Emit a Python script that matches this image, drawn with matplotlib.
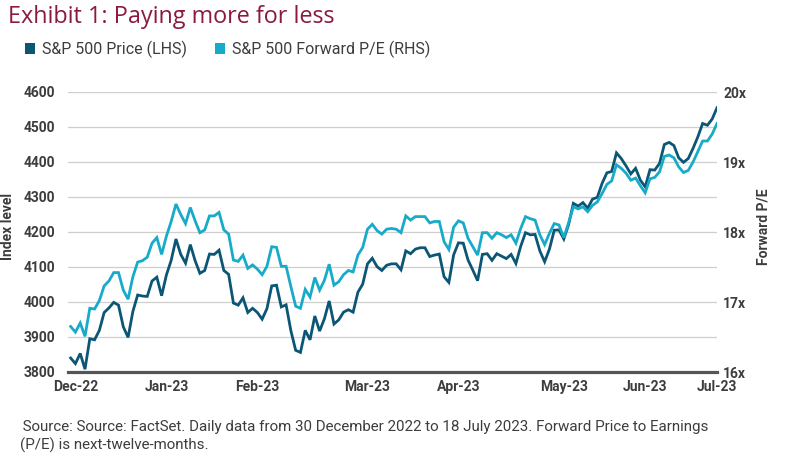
import numpy as np
import matplotlib
matplotlib.use("Agg")
import matplotlib.pyplot as plt
from matplotlib.patches import Rectangle

# ── data (trading days 30 Dec 2022 .. 18 Jul 2023) ──
price = [
    3840, 3824, 3853, 3808, 3895, 3892, 3919, 3970, 3983, 3999,
    3991, 3929, 3899, 3973, 4020, 4017, 4016, 4060, 4071, 4018,
    4077, 4119, 4180, 4136, 4111, 4164, 4118, 4082, 4090, 4137,
    4136, 4148, 4090, 4079, 3997, 3991, 4012, 3970, 3982, 3970,
    3951, 3981, 4046, 4048, 3986, 3992, 3918, 3862, 3856, 3919,
    3892, 3960, 3917, 3952, 4003, 3937, 3949, 3971, 3978, 3971,
    4028, 4051, 4109, 4125, 4101, 4090, 4105, 4109, 4109, 4092,
    4146, 4138, 4151, 4155, 4155, 4130, 4134, 4137, 4072, 4056,
    4135, 4169, 4168, 4120, 4091, 4061, 4136, 4138, 4119, 4138,
    4131, 4124, 4136, 4110, 4159, 4198, 4192, 4193, 4146, 4115,
    4151, 4205, 4206, 4180, 4221, 4282, 4274, 4284, 4268, 4294,
    4299, 4339, 4369, 4373, 4426, 4410, 4389, 4366, 4382, 4348,
    4329, 4378, 4377, 4396, 4450, 4456, 4447, 4412, 4399, 4410,
    4439, 4472, 4510, 4505, 4523, 4555,
]
fwd_pe = [
    16.65, 16.57, 16.70, 16.51, 16.91, 16.90, 17.02, 17.23, 17.30, 17.42,
    17.42, 17.17, 17.04, 17.36, 17.57, 17.59, 17.64, 17.84, 17.92, 17.68,
    17.94, 18.15, 18.40, 18.25, 18.12, 18.35, 18.16, 17.99, 18.03, 18.23,
    18.23, 18.28, 18.03, 17.97, 17.60, 17.58, 17.67, 17.48, 17.53, 17.47,
    17.39, 17.51, 17.79, 17.78, 17.51, 17.51, 17.22, 16.94, 16.91, 17.18,
    17.07, 17.35, 17.17, 17.31, 17.54, 17.24, 17.29, 17.39, 17.45, 17.43,
    17.67, 17.78, 18.04, 18.11, 18.02, 17.97, 18.04, 18.05, 18.04, 17.99,
    18.23, 18.17, 18.22, 18.22, 18.22, 18.13, 18.15, 18.15, 17.86, 17.75,
    18.07, 18.16, 18.13, 17.91, 17.79, 17.67, 17.99, 17.99, 17.91, 17.99,
    17.96, 17.92, 17.96, 17.84, 18.05, 18.22, 18.19, 18.17, 17.96, 17.82,
    17.98, 18.12, 18.10, 17.92, 18.13, 18.36, 18.33, 18.36, 18.29, 18.38,
    18.43, 18.55, 18.68, 18.73, 18.96, 18.91, 18.84, 18.74, 18.77, 18.66,
    18.56, 18.76, 18.78, 18.86, 19.08, 19.10, 19.06, 18.93, 18.85, 18.88,
    19.00, 19.15, 19.30, 19.30, 19.40, 19.55,
]
month_labels = ['Dec-22', 'Jan-23', 'Feb-23', 'Mar-23', 'Apr-23', 'May-23', 'Jun-23', 'Jul-23']
month_pos = [1, 20, 39, 62, 81, 103, 120, 135]   # trading-day index of each label
left_ticks = [3800, 3900, 4000, 4100, 4200, 4300, 4400, 4500, 4600]
right_ticks = [16, 17, 18, 19, 20]

DARK = '#0b5575'
LIGHT = '#17abc9'
TITLE = '#8a1a40'
TXT = '#3d3d3d'
BODY = ['Roboto', 'DejaVu Sans']
TICKF = ['Roboto', 'DejaVu Sans']

W, H = 800, 458
fig = plt.figure(figsize=(W / 100, H / 100), dpi=100)

x = np.arange(len(price))
ax = fig.add_axes([68 / W, 1 - 372 / H, (717 - 68) / W, (372 - 92) / H])
ax2 = ax.twinx()

ax.plot(x, price, color=DARK, lw=2.0, solid_joinstyle='miter')
ax2.plot(x, fwd_pe, color=LIGHT, lw=2.0, solid_joinstyle='miter')

ax.set_xlim(-0.55, 135.0)
ax.set_ylim(3800, 4600)
ax2.set_ylim(16, 20)

ax.set_yticks(left_ticks)
ax.set_yticklabels([str(t) for t in left_ticks])
ax2.set_yticks(right_ticks)
ax2.set_yticklabels([f'{t}x' for t in right_ticks])
ax.set_xticks(month_pos)
ax.set_xticklabels(month_labels)

ax.grid(axis='y', color='#cfcfcf', lw=0.9)
ax.set_axisbelow(True)

for a in (ax, ax2):
    for s in a.spines.values():
        s.set_visible(False)
ax.spines['bottom'].set_visible(True)
ax.spines['bottom'].set_color('#555555')
ax.spines['bottom'].set_linewidth(2.3)
ax.spines['bottom'].set_zorder(5)

ax.tick_params(axis='both', length=0)
ax.tick_params(axis='y', pad=9.5)
ax.tick_params(axis='x', pad=6)
ax2.tick_params(axis='y', length=0, pad=4.5)
for lab in ax.get_xticklabels() + ax.get_yticklabels() + ax2.get_yticklabels():
    lab.set_fontfamily(TICKF)
    lab.set_fontweight('bold')
    lab.set_fontsize(10)
    lab.set_color(TXT)

ax.set_ylabel('Index level', family=TICKF, weight='bold', size=10, color=TXT)
ax.yaxis.set_label_coords(-0.0817, 0.52)
ax2.set_ylabel('Forward P/E', family=TICKF, weight='bold', size=10, color=TXT,
               rotation=90)
ax2.yaxis.set_label_coords(1.0616, 0.52)

# title
fig.text(8 / W, 1 - 23 / H, 'Exhibit 1: Paying more for less', color=TITLE,
         family=['Open Sans', 'DejaVu Sans'], size=16.8, va='baseline', ha='left')

# legend
for sx, tx, col, lab in [(25, 42, DARK, 'S&P 500 Price (LHS)'),
                         (215, 232, LIGHT, 'S&P 500 Forward P/E (RHS)')]:
    fig.add_artist(Rectangle((sx / W, 1 - 54 / H), 10 / W, 11 / H,
                             transform=fig.transFigure, color=col, lw=0))
    fig.text(tx / W, 1 - 54.5 / H, lab, family=BODY, size=11.5, color=TXT,
             va='baseline', ha='left')

# source note
fig.text(19 / W, 1 - 431 / H,
         ' Source: Source: FactSet. Daily data from 30 December 2022 to 18 July 2023. '
         'Forward Price to Earnings', family=BODY, size=10.9, color=TXT,
         va='baseline', ha='left')
fig.text(20 / W, 1 - 450 / H, '(P/E) is next-twelve-months.', family=BODY,
         size=10.9, color=TXT, va='baseline', ha='left')

fig.savefig('out.png', dpi=100)
